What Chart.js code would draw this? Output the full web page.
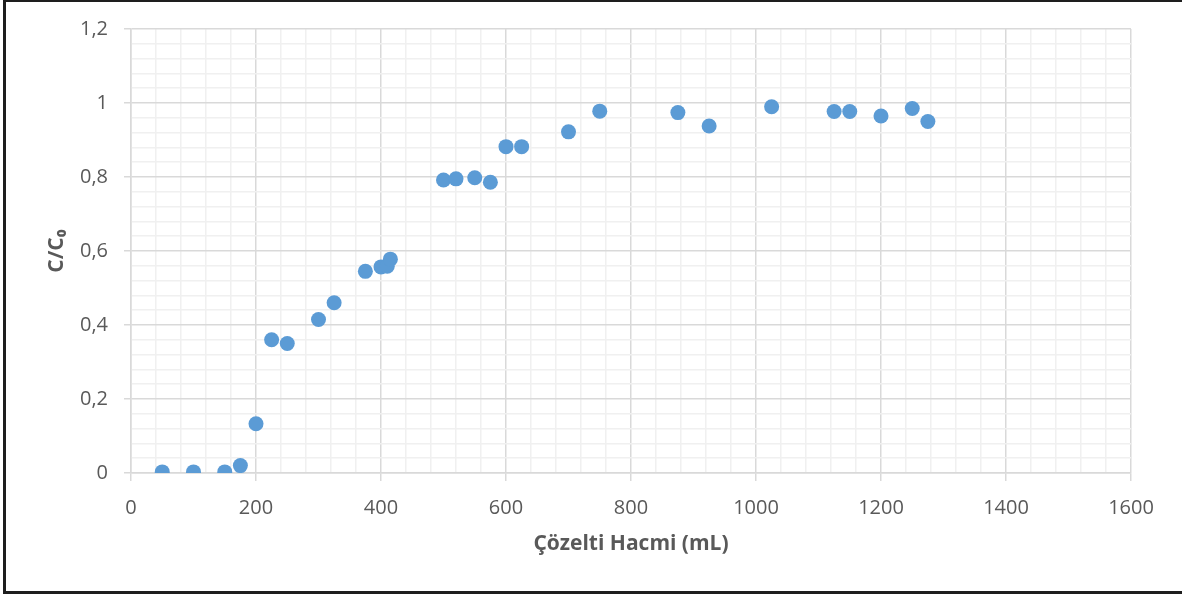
<!DOCTYPE html>
<html>
<head>
<meta charset="utf-8">
<script src="https://cdn.jsdelivr.net/npm/chart.js@4"></script>
<style>
  html, body { margin: 0; padding: 0; background: #ffffff; }
  #wrap { position: relative; width: 1182px; height: 594px; overflow: hidden; }
  #frame {
    position: absolute; left: 3px; top: -1px; width: 1190px; height: 595px;
    box-sizing: border-box; border: 3px solid #1e1e1e; pointer-events: none;
  }
  canvas { position: absolute; left: 0; top: 0; }
</style>
</head>
<body>
<div id="wrap">
  <canvas id="chart" width="1182" height="594"></canvas>
  <div id="frame"></div>
</div>
<script>
// Solution volume (mL) and breakthrough ratio C/C0
const volumes = [50, 100, 150, 175, 200, 225, 250, 300, 325, 375, 400, 410, 415,
                 500, 520, 550, 575, 600, 625, 700, 750, 875, 925, 1025, 1125, 1150,
                 1200, 1250, 1275];
const ratios  = [0.003, 0.003, 0.003, 0.02, 0.133, 0.36, 0.35, 0.415, 0.46, 0.545,
                 0.557, 0.559, 0.578, 0.792, 0.795, 0.798, 0.786, 0.882, 0.882, 0.922,
                 0.978, 0.974, 0.938, 0.99, 0.977, 0.977, 0.965, 0.985, 0.95];

// Major tick labels (comma decimals)
const xTickLabels = ['0', '200', '400', '600', '800', '1000', '1200', '1400', '1600'];
const yTickLabels = ['0', '0,2', '0,4', '0,6', '0,8', '1', '1,2'];

const xMajor = 200, xMinor = 40;
const yMajor = 0.2, yMinor = 0.04;

const majorGrid = '#d9d9d9';
const minorGrid = '#f0f0f0';
const textGray = '#595959';

function majorIndex(v, step) {
  const q = v / step;
  const r = Math.round(q);
  return Math.abs(q - r) < 1e-6 ? r : -1;
}

const points = volumes.map((v, i) => ({ x: v, y: ratios[i] }));

new Chart(document.getElementById('chart'), {
  type: 'scatter',
  data: {
    datasets: [{
      data: points,
      backgroundColor: '#5b9bd5',
      borderColor: '#5b9bd5',
      borderWidth: 0,
      pointRadius: 7.5,
      pointHoverRadius: 7.5
    }]
  },
  options: {
    responsive: false,
    animation: false,
    devicePixelRatio: 1,
    layout: { padding: { left: 0, top: 29, right: 51, bottom: 0 } },
    plugins: { legend: { display: false }, tooltip: { enabled: false } },
    scales: {
      x: {
        type: 'linear',
        min: 0, max: 1600,
        afterFit: s => { s.height = 121; },
        ticks: {
          stepSize: xMinor,
          autoSkip: false,
          maxRotation: 0,
          padding: 15,
          color: textGray,
          font: { family: '"Open Sans", "Liberation Sans", sans-serif', size: 20 },
          callback: v => {
            const k = majorIndex(v, xMajor);
            return k >= 0 ? xTickLabels[k] : '';
          }
        },
        grid: {
          tickLength: 8,
          color: c => majorIndex(c.tick.value, xMajor) >= 0 ? majorGrid : minorGrid,
          tickColor: c => majorIndex(c.tick.value, xMajor) >= 0 ? majorGrid : 'rgba(0,0,0,0)',
          lineWidth: 1.5
        },
        border: { color: majorGrid, width: 1.5 },
        title: {
          display: true,
          text: 'Çözelti Hacmi (mL)',
          color: textGray,
          font: { family: '"Open Sans", "Liberation Sans", sans-serif', size: 21, weight: 'bold' },
          padding: { top: 0, bottom: 37 }
        }
      },
      y: {
        type: 'linear',
        min: 0, max: 1.2,
        afterFit: s => { s.width = 131; },
        ticks: {
          stepSize: yMinor,
          autoSkip: false,
          padding: 16,
          color: textGray,
          font: { family: '"Open Sans", "Liberation Sans", sans-serif', size: 20 },
          callback: v => {
            const k = majorIndex(v, yMajor);
            return k >= 0 ? yTickLabels[k] : '';
          }
        },
        grid: {
          tickLength: 7,
          color: c => majorIndex(c.tick.value, yMajor) >= 0 ? majorGrid : minorGrid,
          tickColor: c => majorIndex(c.tick.value, yMajor) >= 0 ? majorGrid : 'rgba(0,0,0,0)',
          lineWidth: 1.5
        },
        border: { color: majorGrid, width: 1.5 },
        title: {
          display: true,
          text: 'C/C₀',
          color: textGray,
          font: { family: '"Open Sans", "DejaVu Sans", sans-serif', size: 21, weight: 'bold' },
          padding: { top: 44, bottom: 0 }
        }
      }
    }
  }
});
</script>
</body>
</html>
